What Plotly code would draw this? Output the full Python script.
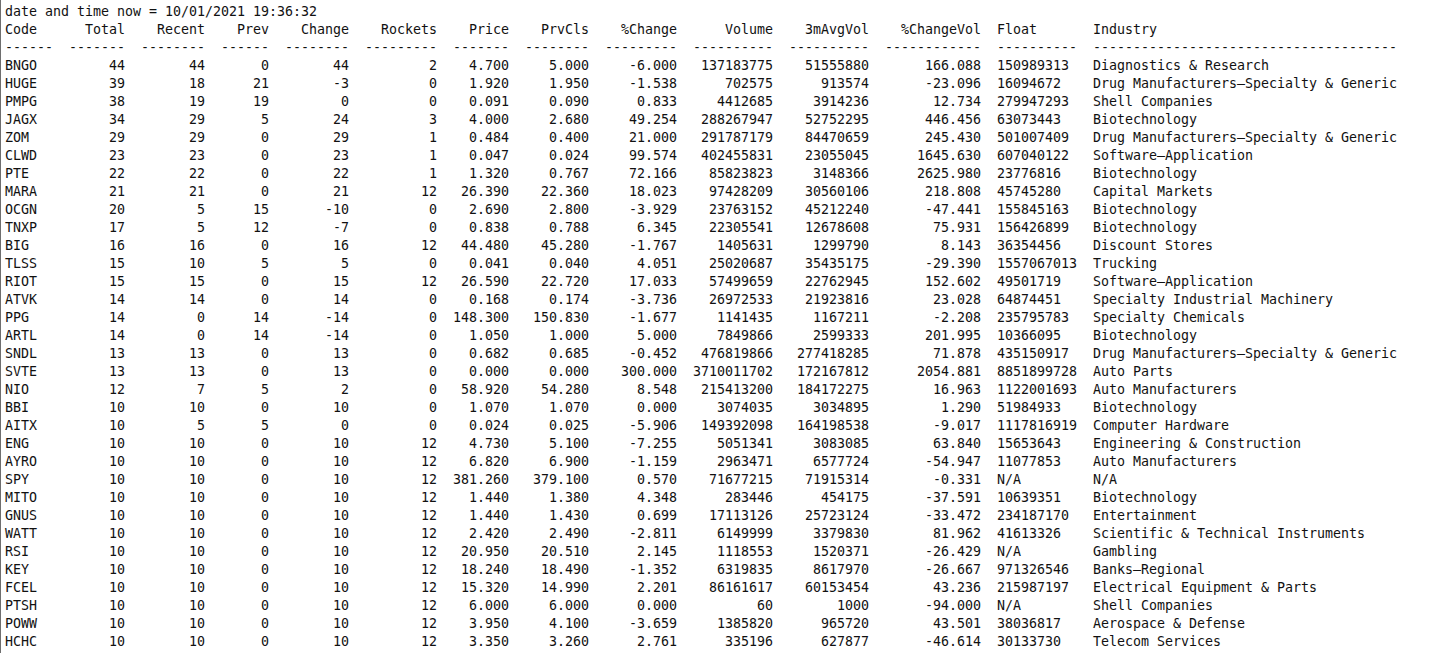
import plotly.graph_objects as go

timestamp = "10/01/2021 19:36:32"

codes = ["BNGO", "HUGE", "PMPG", "JAGX", "ZOM", "CLWD", "PTE", "MARA", "OCGN", "TNXP",
         "BIG", "TLSS", "RIOT", "ATVK", "PPG", "ARTL", "SNDL", "SVTE", "NIO", "BBI",
         "AITX", "ENG", "AYRO", "SPY", "MITO", "GNUS", "WATT", "RSI", "KEY", "FCEL",
         "PTSH", "POWW", "HCHC"]
total = [44, 39, 38, 34, 29, 23, 22, 21, 20, 17, 16, 15, 15, 14, 14, 14, 13, 13, 12, 10,
         10, 10, 10, 10, 10, 10, 10, 10, 10, 10, 10, 10, 10]
recent = [44, 18, 19, 29, 29, 23, 22, 21, 5, 5, 16, 10, 15, 14, 0, 0, 13, 13, 7, 10,
          5, 10, 10, 10, 10, 10, 10, 10, 10, 10, 10, 10, 10]
prev = [0, 21, 19, 5, 0, 0, 0, 0, 15, 12, 0, 5, 0, 0, 14, 14, 0, 0, 5, 0,
        5, 0, 0, 0, 0, 0, 0, 0, 0, 0, 0, 0, 0]
change = [44, -3, 0, 24, 29, 23, 22, 21, -10, -7, 16, 5, 15, 14, -14, -14, 13, 13, 2, 10,
          0, 10, 10, 10, 10, 10, 10, 10, 10, 10, 10, 10, 10]
rockets = [2, 0, 0, 3, 1, 1, 1, 12, 0, 0, 12, 0, 12, 0, 0, 0, 0, 0, 0, 0,
           0, 12, 12, 12, 12, 12, 12, 12, 12, 12, 12, 12, 12]
price = [4.700, 1.920, 0.091, 4.000, 0.484, 0.047, 1.320, 26.390, 2.690, 0.838,
         44.480, 0.041, 26.590, 0.168, 148.300, 1.050, 0.682, 0.000, 58.920, 1.070,
         0.024, 4.730, 6.820, 381.260, 1.440, 1.440, 2.420, 20.950, 18.240, 15.320,
         6.000, 3.950, 3.350]
prv_cls = [5.000, 1.950, 0.090, 2.680, 0.400, 0.024, 0.767, 22.360, 2.800, 0.788,
           45.280, 0.040, 22.720, 0.174, 150.830, 1.000, 0.685, 0.000, 54.280, 1.070,
           0.025, 5.100, 6.900, 379.100, 1.380, 1.430, 2.490, 20.510, 18.490, 14.990,
           6.000, 4.100, 3.260]
pct_change = [-6.000, -1.538, 0.833, 49.254, 21.000, 99.574, 72.166, 18.023, -3.929, 6.345,
              -1.767, 4.051, 17.033, -3.736, -1.677, 5.000, -0.452, 300.000, 8.548, 0.000,
              -5.906, -7.255, -1.159, 0.570, 4.348, 0.699, -2.811, 2.145, -1.352, 2.201,
              0.000, -3.659, 2.761]
volume = [137183775, 702575, 4412685, 288267947, 291787179, 402455831, 85823823, 97428209,
          23763152, 22305541, 1405631, 25020687, 57499659, 26972533, 1141435, 7849866,
          476819866, 3710011702, 215413200, 3074035, 149392098, 5051341, 2963471, 71677215,
          283446, 17113126, 6149999, 1118553, 6319835, 86161617, 60, 1385820, 335196]
avg_vol_3m = [51555880, 913574, 3914236, 52752295, 84470659, 23055045, 3148366, 30560106,
              45212240, 12678608, 1299790, 35435175, 22762945, 21923816, 1167211, 2599333,
              277418285, 172167812, 184172275, 3034895, 164198538, 3083085, 6577724, 71915314,
              454175, 25723124, 3379830, 1520371, 8617970, 60153454, 1000, 965720, 627877]
pct_change_vol = [166.088, -23.096, 12.734, 446.456, 245.430, 1645.630, 2625.980, 218.808,
                  -47.441, 75.931, 8.143, -29.390, 152.602, 23.028, -2.208, 201.995,
                  71.878, 2054.881, 16.963, 1.290, -9.017, 63.840, -54.947, -0.331,
                  -37.591, -33.472, 81.962, -26.429, -26.667, 43.236, -94.000, 43.501, -46.614]
float_shares = [150989313, 16094672, 279947293, 63073443, 501007409, 607040122, 23776816,
                45745280, 155845163, 156426899, 36354456, 1557067013, 49501719, 64874451,
                235795783, 10366095, 435150917, 8851899728, 1122001693, 51984933, 1117816919,
                15653643, 11077853, None, 10639351, 234187170, 41613326, None, 971326546,
                215987197, None, 38036817, 30133730]
industry = ["Diagnostics & Research", "Drug Manufacturers—Specialty & Generic", "Shell Companies",
            "Biotechnology", "Drug Manufacturers—Specialty & Generic", "Software—Application",
            "Biotechnology", "Capital Markets", "Biotechnology", "Biotechnology",
            "Discount Stores", "Trucking", "Software—Application",
            "Specialty Industrial Machinery", "Specialty Chemicals", "Biotechnology",
            "Drug Manufacturers—Specialty & Generic", "Auto Parts", "Auto Manufacturers",
            "Biotechnology", "Computer Hardware", "Engineering & Construction",
            "Auto Manufacturers", "N/A", "Biotechnology", "Entertainment",
            "Scientific & Technical Instruments", "Gambling", "Banks—Regional",
            "Electrical Equipment & Parts", "Shell Companies", "Aerospace & Defense",
            "Telecom Services"]

headers = ["Code", "Total", "Recent", "Prev", "Change", "Rockets", "Price", "PrvCls",
           "%Change", "Volume", "3mAvgVol", "%ChangeVol", "Float", "Industry"]
widths = [6, 7, 8, 6, 8, 9, 7, 8, 9, 10, 10, 12, 10, 38]
left_aligned = {"Code", "Float", "Industry"}

NBSP = "\u00a0"
FONT = dict(family="DejaVu Sans Mono, Liberation Mono, monospace", size=13.3, color="#111111")


def fmt_float(v):
    return f"{v:.3f}"


def fmt_float_shares(v):
    return "N/A" if v is None else str(v)


columns = [
    codes,
    [str(v) for v in total],
    [str(v) for v in recent],
    [str(v) for v in prev],
    [str(v) for v in change],
    [str(v) for v in rockets],
    [fmt_float(v) for v in price],
    [fmt_float(v) for v in prv_cls],
    [fmt_float(v) for v in pct_change],
    [str(v) for v in volume],
    [str(v) for v in avg_vol_3m],
    [fmt_float(v) for v in pct_change_vol],
    [fmt_float_shares(v) for v in float_shares],
    industry,
]


def pad(s, w, left):
    s = s.ljust(w) if left else s.rjust(w)
    return s.replace(" ", NBSP)


fig = go.Figure()

# first line of the console output; every cell is padded to its column
# width and centred, so the monospace text lines up like the console
title = "date and time now = " + timestamp
fig.add_trace(go.Scatter(
    x=[len(title) / 2], y=[0], mode="text", textposition="middle center",
    text=[title.replace(" ", NBSP)],
    textfont=FONT, hoverinfo="skip", cliponaxis=False,
))

start = 0
for name, width, cells in zip(headers, widths, columns):
    left = name in left_aligned
    texts = [pad(name, width, left), "-" * width] + [pad(c, width, left) for c in cells]
    rows = list(range(1, len(texts) + 1))
    fig.add_trace(go.Scatter(
        x=[start + width / 2] * len(texts), y=rows, mode="text",
        textposition="middle center",
        text=texts, textfont=FONT, hoverinfo="skip", cliponaxis=False,
    ))
    start += width + 2

# 8 px per character, 18 px per line
x0 = -5 / 8
y0 = -13 / 18
fig.update_xaxes(range=[x0, x0 + 1449 / 8], visible=False, fixedrange=True)
fig.update_yaxes(range=[y0 + 653 / 18, y0], visible=False, fixedrange=True)

fig.add_shape(type="line", xref="paper", yref="paper", x0=0, x1=0, y0=0, y1=1,
              line=dict(color="#6e6e6e", width=2))

fig.update_layout(
    width=1449, height=653,
    margin=dict(l=0, r=0, t=0, b=0),
    paper_bgcolor="white", plot_bgcolor="white",
    showlegend=False, hovermode=False,
)

# drop the browser's default 8px body margin so the figure fills the window
fig.write_html("out.html", config={"displayModeBar": False},
               post_script="document.body.style.margin = '0';")
